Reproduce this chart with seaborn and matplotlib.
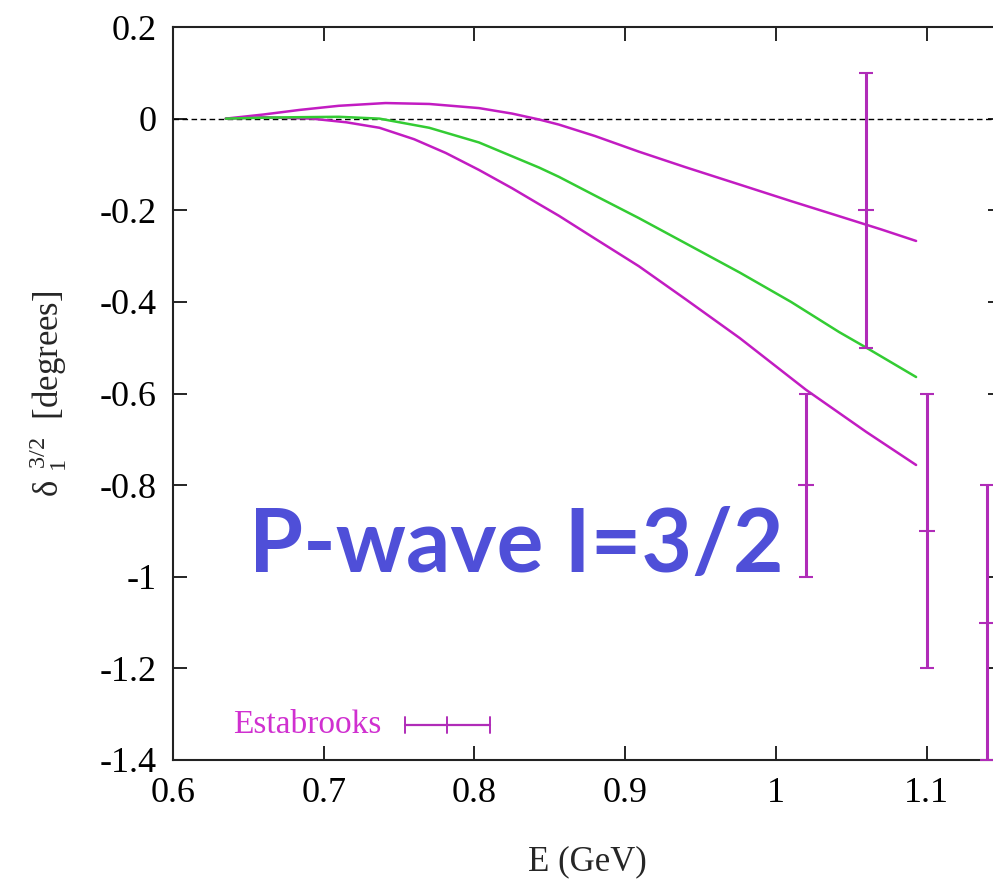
import matplotlib
matplotlib.use("Agg")
import matplotlib.pyplot as plt
import seaborn as sns
import pandas as pd

# ---- data ----
upper_x = [0.635, 0.66, 0.684, 0.71, 0.741, 0.77, 0.803, 0.825, 0.843, 0.856, 0.88, 0.909, 0.94, 0.976, 1.01, 1.042, 1.07, 1.093]
upper_y = [0.000, 0.009, 0.019, 0.028, 0.034, 0.032, 0.023, 0.011, -0.002, -0.013, -0.038, -0.072, -0.106, -0.144, -0.180, -0.213, -0.242, -0.267]

green_x = [0.635, 0.66, 0.68, 0.71, 0.737, 0.77, 0.803, 0.843, 0.856, 0.88, 0.909, 0.94, 0.976, 1.01, 1.042, 1.06, 1.093]
green_y = [0.000, 0.002, 0.003, 0.004, 0.000, -0.020, -0.052, -0.107, -0.127, -0.168, -0.217, -0.272, -0.336, -0.400, -0.466, -0.500, -0.564]

lower_x = [0.635, 0.66, 0.692, 0.715, 0.737, 0.76, 0.781, 0.803, 0.825, 0.843, 0.856, 0.88, 0.909, 0.94, 0.976, 1.02, 1.06, 1.093]
lower_y = [0.000, 0.003, 0.000, -0.008, -0.020, -0.045, -0.075, -0.112, -0.152, -0.187, -0.212, -0.262, -0.322, -0.394, -0.479, -0.592, -0.684, -0.756]

estab_x = [1.02, 1.06, 1.10, 1.14]
estab_y = [-0.80, -0.20, -0.90, -1.10]
estab_err = [0.20, 0.30, 0.30, 0.30]

xticks = [0.6, 0.7, 0.8, 0.9, 1.0, 1.1]
xtick_labels = ["0.6", "0.7", "0.8", "0.9", "1", "1.1"]
yticks = [0.2, 0.0, -0.2, -0.4, -0.6, -0.8, -1.0, -1.2, -1.4]
ytick_labels = ["0.2", "0", "-0.2", "-0.4", "-0.6", "-0.8", "-1", "-1.2", "-1.4"]

MAG = "#c21cc2"
EMAG = "#b02cb8"
GRN = "#33cc33"
BLUE = "#4f4fd8"

sns.set_style("ticks")
plt.rcParams["font.family"] = ["Liberation Serif", "DejaVu Serif"]
plt.rcParams["mathtext.fontset"] = "custom"
plt.rcParams["mathtext.rm"] = "Liberation Serif"
plt.rcParams["mathtext.it"] = "Liberation Serif"

fig = plt.figure(figsize=(9.93, 8.91), dpi=100)
W, H = 993.0, 891.0
ax = fig.add_axes([173 / W, 131 / H, (1002 - 173) / W, (760 - 27) / H])

df_u = pd.DataFrame({"E": upper_x, "d": upper_y})
df_g = pd.DataFrame({"E": green_x, "d": green_y})
df_l = pd.DataFrame({"E": lower_x, "d": lower_y})

ax.axhline(0.0, color="black", lw=1.0, ls=(0, (4, 2.5)), zorder=1)
sns.lineplot(data=df_u, x="E", y="d", ax=ax, color=MAG, lw=1.8, sort=False, estimator=None)
sns.lineplot(data=df_l, x="E", y="d", ax=ax, color=MAG, lw=1.8, sort=False, estimator=None)
sns.lineplot(data=df_g, x="E", y="d", ax=ax, color=GRN, lw=1.8, sort=False, estimator=None)

ax.errorbar(estab_x, estab_y, yerr=estab_err, fmt="none", ecolor=EMAG,
            elinewidth=2.2, capsize=5, capthick=1.5, zorder=3, clip_on=False)
# centre tick marks of the gnuplot-style error bars
ax.plot(estab_x, estab_y, ls="none", marker="_", ms=11, mew=1.5, color=EMAG, zorder=3)

ax.set_xlim(0.6, 1.15)
ax.set_ylim(-1.4, 0.2)
ax.set_xticks(xticks)
ax.set_xticklabels(xtick_labels)
ax.set_yticks(yticks)
ax.set_yticklabels(ytick_labels)
ax.tick_params(direction="in", length=10, width=1.2, top=True, right=True,
               labelsize=26, pad=12, colors="black")
for s in ax.spines.values():
    s.set_linewidth(1.5)
    s.set_color("#222222")

ax.set_xlabel("E (GeV)", fontsize=25, labelpad=26)
ax.set_ylabel(r"δ $_{1}^{\,3/2}$  [degrees]", fontsize=25, labelpad=22)

# legend (gnuplot style key)
ky = 0.0475
ax.text(0.252, ky, "Estabrooks", transform=ax.transAxes, color="#d030d0",
        fontsize=24, ha="right", va="center")
kx0, kx1 = 0.280, 0.382
ax.plot([kx0, kx1], [ky, ky], transform=ax.transAxes, color=EMAG, lw=1.6)
for kx in (kx0, 0.330, kx1):
    ax.plot([kx, kx], [ky - 0.011, ky + 0.011], transform=ax.transAxes, color=EMAG, lw=1.4)

ax.text(0.092, 0.257, "P-wave I=3/2", transform=ax.transAxes, color=BLUE,
        fontsize=63, fontweight="bold", family=["Lato", "DejaVu Sans"],
        ha="left", va="baseline")

fig.savefig("out.png", dpi=100)
